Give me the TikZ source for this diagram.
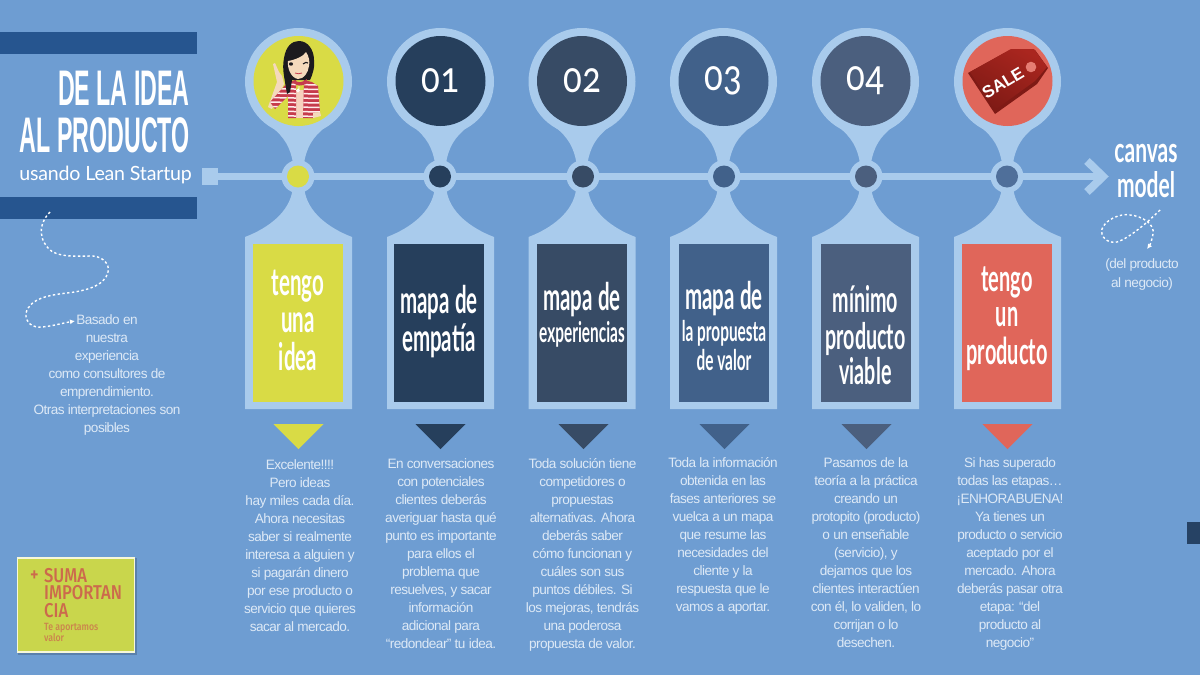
\documentclass[tikz,border=0pt]{standalone}
\usepackage{fontspec}
\usetikzlibrary{arrows.meta,shapes.geometric}
\setmainfont{Liberation Sans}
\newfontfamily\fTitle[FakeStretch=.465]{Liberation Sans Bold}
\newfontfamily\fBox[FakeStretch=.54]{Lato Bold}
\newfontfamily\fBoxW[FakeStretch=.6]{Lato Bold}
\newfontfamily\fBody[LetterSpace=-4]{Liberation Sans}
\newfontfamily\fNum[Numbers=OldStyle,FakeStretch=.82]{Carlito}
\newfontfamily\fSub[LetterSpace=-1]{Lato}
\newfontfamily\fNote[FakeStretch=.83]{Fira Sans Medium}
\newcommand{\smallbox}{\fontsize{28.5}{29}\selectfont}
\newcommand{\numup}[1]{\raisebox{-6pt}{#1}}
\definecolor{bg}{HTML}{6E9DD2}
\definecolor{lite}{HTML}{A9CBEC}
\definecolor{bar}{HTML}{26558F}
\definecolor{yel}{HTML}{D9DB45}
\definecolor{cA}{HTML}{263F5C}
\definecolor{cB}{HTML}{374B65}
\definecolor{cC}{HTML}{41618A}
\definecolor{cD}{HTML}{4B5F7E}
\definecolor{cE}{HTML}{E0665A}
\definecolor{cF}{HTML}{4F6F9A}
\definecolor{bodyc}{HTML}{DDE9F6}
\tikzset{
  body/.style={font=\fBody\fontsize{13.6}{18}\selectfont,text=bodyc,align=center,anchor=north,inner sep=0pt},
  boxlab/.style={font=\fBox\fontsize{38}{38}\selectfont,text=white,align=center,inner sep=0pt},
  numlab/.style={circle,minimum size=90pt,inner sep=0pt,text=white,font=\fNum\fontsize{45}{45}\selectfont},
  halo/.style={circle,fill=lite,minimum size=107pt,inner sep=0pt},
  hubout/.style={circle,fill=lite,minimum size=33pt,inner sep=0pt},
  hubin/.style={circle,minimum size=22pt,inner sep=0pt},
  tline/.style={draw=lite,line width=7pt},
  dots/.style={draw=white,line width=1.4pt,dash pattern=on 2.4pt off 2.4pt}
}
\begin{document}
\begin{tikzpicture}[x=1pt,y=-1pt]
\useasboundingbox (0,0) rectangle (1200,675);
\fill[bg] (0,0) rectangle (1200,675);
% header bars
\fill[bar] (0,32) rectangle (197,54);
\fill[bar] (0,197) rectangle (197,219);
\fill[cA!85!bar] (1187,522) rectangle (1200,544);
% title
\node[anchor=east,inner sep=0pt,text=white,font=\fTitle\fontsize{50}{50}\selectfont] (t1) at (190,88) {DE LA IDEA};
\node[anchor=east,inner sep=0pt,text=white,font=\fTitle\fontsize{50}{50}\selectfont] (t2) at (190,135) {AL PRODUCTO};
\node[anchor=east,inner sep=0pt,text=white,font=\fSub\fontsize{19.6}{19.6}\selectfont] (t3) at (192,175) {usando Lean Startup};
% timeline
\node[fill=lite,minimum size=16.5pt,inner sep=0pt] (sq) at (210,176.5) {};
\coordinate (tip) at (1103,176.5);
\coordinate (armA) at (1087,161);
\coordinate (armB) at (1087,192);
\draw[tline] (sq.east) -- (tip);
\draw[draw=lite,line width=8pt,miter limit=10] (armA) -- (tip) -- (armB);
% columns
\foreach \id/\cx/\hx/\col/\rx/\hc in {1/298.5/298/yel/298/yel,2/440.5/440/cA/439/cA,3/582/583/cB/582/cB,4/723.5/724/cC/724/cC,5/865.5/866/cD/865.5/cD,6/1007.5/1007/cE/1007/cF}{
  \fill[lite] ({\cx-27},127) .. controls ({\cx-14},137) and ({\cx-8},148) .. ({\cx-5.5},163) -- ({\cx+5.5},163) .. controls ({\cx+8},148) and ({\cx+14},137) .. ({\cx+27},127) -- cycle;
  \fill[lite] ({\cx-6},190) .. controls ({\cx-9},212) and ({\cx-30},228) .. ({\cx-53.5},237) -- ({\cx-53.5},409) -- ({\cx+53.5},409) -- ({\cx+53.5},237) .. controls ({\cx+30},228) and ({\cx+9},212) .. ({\cx+6},190) -- cycle;
  \node[halo] (halo\id) at (\cx,81.5) {};
  \node[hubout] (hubo\id) at (\hx,176.5) {};
  \node[hubin,fill=\hc] (hub\id) at (\hx,176.5) {};
  \node[fill=\col,minimum width=90pt,minimum height=158pt,inner sep=0pt] (rect\id) at (\rx,323) {};
  \node[isosceles triangle,shape border rotate=-90,isosceles triangle stretches,fill=\col,inner sep=0pt,minimum width=50pt,minimum height=25pt] (tri\id) at ({\hx+0.5},434.5) {};
}
% pin heads
\node[numlab,fill=yel] (pin1) at (298.5,81) {};
\node[numlab,fill=cA] (pin2) at (440.5,81) {\numup{01}};
\node[numlab,fill=cB] (pin3) at (582,81) {\numup{02}};
\node[numlab,fill=cC] (pin4) at (723.5,81) {\numup{03}};
\node[numlab,fill=cD] (pin5) at (865.5,81) {\numup{04}};
\node[numlab,fill=cE] (pin6) at (1007.5,81) {};
% woman
\definecolor{skin}{HTML}{F4D9BC}
\definecolor{hair}{HTML}{1C1A1E}
\definecolor{stripe}{HTML}{C63B4C}
\fill[skin] (268,107) -- (272,109) -- (284,84) -- (282,76) -- (279,72) -- (275,63) -- (273,64) -- (275,73) -- (277,82) -- cycle;
\fill[skin!70!pink] (295,90) rectangle (304,118);
\begin{scope}
\clip (288,82) -- (296,80) -- (296,118) -- (288,118) -- (288,96) -- (275,109) -- (270,102) -- cycle (304,80) -- (312,82) -- (318,86) -- (320,112) -- (313,113) -- (313,118) -- (303,118) -- cycle;
\fill[stripe] (266,78) rectangle (322,120);
\foreach \y in {84,88.5,...,119}{\draw[white!70!pink,line width=1.5pt] (266,\y) -- (322,{\y+1});}
\end{scope}
\fill[skin] (313,113) -- (320,112) -- (321,116) -- (313,118) -- cycle;
\fill[hair] (287,94) .. controls (284,75) and (282,70) .. (284,58) .. controls (286,46) and (292,41) .. (299,41) .. controls (308,41) and (314,50) .. (314,60) .. controls (315,68) and (312,76) .. (310,80) -- (292,80) -- (290,92) -- cycle;
\fill[skin] (298,79) .. controls (291,78) and (287,68) .. (288,61) .. controls (295,60) and (304,56) .. (306,52) .. controls (309,56) and (310,62) .. (309,66) .. controls (308,73) and (304,79) .. (298,79) -- cycle;
\fill[hair] (291,64) ellipse (2pt and 1.7pt);
\draw[hair,line width=1.1pt] (303,64) .. controls (305,62) and (307,62) .. (308,63);
\draw[stripe,line width=.8pt] (295,73) .. controls (297,74) and (300,74) .. (302,73);
\fill[stripe] (294,80) .. controls (298,83) and (302,83) .. (307,79) -- (306,84) .. controls (302,86) and (297,86) .. (295,84) -- cycle;
\draw[white,line width=.9pt] (299,86) -- (299,90) (298,90.5) circle (1.2pt);
% sale tag
\definecolor{tagd}{HTML}{7F1A15}
\definecolor{tagm}{HTML}{A02A22}
\fill[tagd] (968,73) -- (1010,50) -- (1035,50) -- (1048,68) -- (1037,84) -- (995,114) -- cycle;
\shade[top color=tagm!90!red,bottom color=tagd,shading angle=-30] (970,72) -- (1011,49) -- (1034,49) -- (1047,67) -- (1035,81) -- (995,110) -- cycle;
\fill[cE!85!white] (1031,67) circle (5.3pt);
\node[rotate=31,inner sep=0pt,text=white,font=\fontsize{17}{17}\selectfont\bfseries] (sale) at (1003,83) {SALE};
% box labels
\node[boxlab] (lab1) at (298,320) {tengo\\[-1pt]una\\idea};
\node[boxlab] (lab2) at (439,322) {mapa de\\empatía};
\node[boxlab] (lab3) at (582,315) {mapa de\\[-6pt]\smallbox experiencias};
\node[boxlab] (lab4) at (724,326) {mapa de\\[-6pt]\smallbox la propuesta\\[-9pt]\smallbox de valor};
\node[boxlab,font=\fBox\fontsize{36.5}{38}\selectfont] (lab5) at (865.5,335) {mínimo\\[-1pt]producto\\[-3pt]viable};
\node[boxlab,font=\fBox\fontsize{37}{38}\selectfont] (lab6) at (1007,319) {tengo\\[-3pt]un\\producto};
% body texts
\node[body] (b1) at (300,459) {Excelente!!!!\\Pero ideas\\hay miles cada día.\\Ahora necesitas\\saber si realmente\\interesa a alguien y\\si pagarán dinero\\por ese producto o\\servicio que quieres\\sacar al mercado.};
\node[body] (b2) at (441,458) {En conversaciones\\con potenciales\\clientes deberás\\averiguar hasta qué\\punto es importante\\para ellos el\\problema que\\resuelves, y sacar\\información\\adicional para\\“redondear” tu idea.};
\node[body] (b3) at (582.5,458) {Toda solución tiene\\competidores o\\propuestas\\alternativas. Ahora\\deberás saber\\cómo funcionan y\\cuáles son sus\\puntos débiles. Si\\los mejoras, tendrás\\una poderosa\\propuesta de valor.};
\node[body] (b4) at (723,457) {Toda la información\\obtenida en las\\fases anteriores se\\vuelca a un mapa\\que resume las\\necesidades del\\cliente y la\\respuesta que le\\vamos a aportar.};
\node[body] (b5) at (866,457) {Pasamos de la\\teoría a la práctica\\creando un\\protopito (producto)\\o un enseñable\\(servicio), y\\dejamos que los\\clientes interactúen\\con él, lo validen, lo\\corrijan o lo\\desechen.};
\node[body] (b6) at (1010,457) {Si has superado\\todas las etapas…\\¡ENHORABUENA!\\Ya tienes un\\producto o servicio\\aceptado por el\\mercado. Ahora\\deberás pasar otra\\etapa: “del\\producto al\\negocio”};
\node[body] (based) at (107,314) {Basado en\\nuestra\\experiencia\\como consultores de\\emprendimiento.\\Otras interpretaciones son\\posibles};
% canvas model
\node[font=\fBoxW\fontsize{35}{35}\selectfont,text=white,inner sep=0pt,align=center] (cm) at (1146,171) {canvas\\model};
\node[body,font=\fBody\fontsize{13.6}{19}\selectfont] (cmsub) at (1142,258) {(del producto\\al negocio)};
% dashed curves
\coordinate (dA) at (50,212);
\coordinate (dB) at (75,321);
\draw[dots,-{Latex[length=5pt,width=5pt]}] (dA) .. controls (42,220) and (36,234) .. (48,248) .. controls (56,258) and (78,256) .. (93,256) .. controls (103,257) and (110,264) .. (108,272) .. controls (105,286) and (85,291) .. (67,293) .. controls (50,295) and (30,298) .. (26,313) .. controls (25,323) and (33,328) .. (42,327) .. controls (53,326) and (63,323) .. (dB);
\coordinate (dC) at (1160,210);
\coordinate (dD) at (1147,249);
\draw[dots,-{Latex[length=5pt,width=5pt]}] (dC) .. controls (1150,220) and (1130,238) .. (1117,242) .. controls (1107,244) and (1100,236) .. (1102,229) .. controls (1105,220) and (1120,213) .. (1130,215) .. controls (1142,216) and (1155,224) .. (1153,234) .. controls (1152,240) and (1150,245) .. (dD);
% sticky note
\definecolor{notey}{HTML}{C9D64C}
\fill[black,opacity=.18] (18,558) rectangle (137,655);
\node[fill=notey,draw=white!80!yel,line width=1.4pt,minimum width=117pt,minimum height=94pt,inner sep=0pt] (note) at (76,605) {};
\definecolor{notered}{HTML}{CC6A4C}
\node[anchor=west,inner sep=0pt,text=notered,font=\fNote\fontsize{20}{20}\selectfont] (plus) at (30,576) {+};
\node[anchor=north west,inner sep=0pt,text=notered,align=left,font=\fNote\fontsize{20}{17.4}\selectfont] (nt) at (44,568) {SUMA\\IMPORTAN\\CIA};
\node[anchor=north west,inner sep=0pt,text=notered!75!notey,align=left,font=\fNote\fontsize{10.5}{10}\selectfont] (ns) at (44,623) {Te aportamos\\valor};
\end{tikzpicture}
\end{document}
